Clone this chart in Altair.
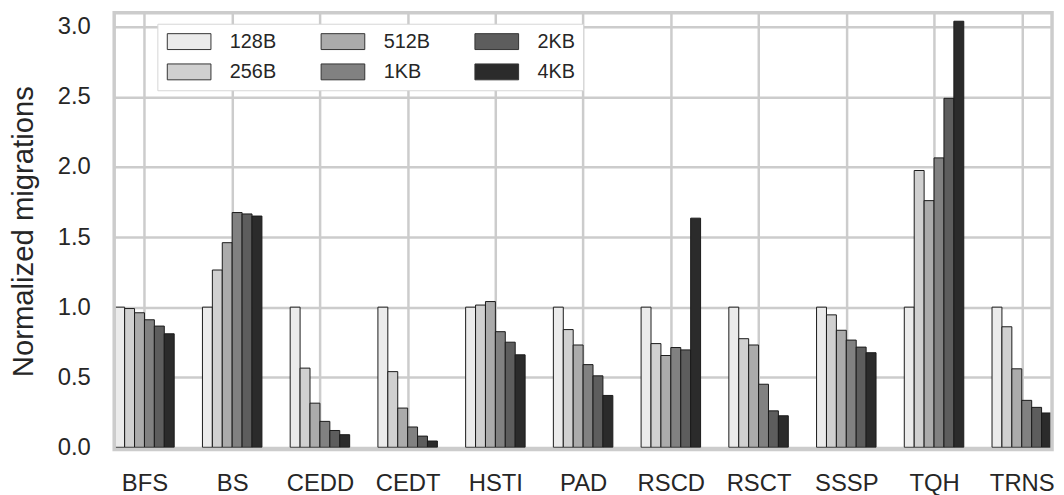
import altair as alt
import pandas as pd

benchmarks = ["BFS", "BS", "CEDD", "CEDT", "HSTI", "PAD", "RSCD", "RSCT", "SSSP", "TQH", "TRNS"]
sizes = ["128B", "256B", "512B", "1KB", "2KB", "4KB"]

v_128B = [1.0, 1.0, 1.0, 1.0, 1.0, 1.0, 1.0, 1.0, 1.0, 1.0, 1.0]
v_256B = [0.99, 1.265, 0.565, 0.54, 1.015, 0.84, 0.74, 0.775, 0.945, 1.975, 0.86]
v_512B = [0.96, 1.46, 0.315, 0.28, 1.04, 0.73, 0.655, 0.73, 0.835, 1.76, 0.56]
v_1KB = [0.91, 1.675, 0.185, 0.145, 0.825, 0.59, 0.712, 0.45, 0.765, 2.065, 0.335]
v_2KB = [0.865, 1.665, 0.12, 0.08, 0.75, 0.51, 0.695, 0.26, 0.715, 2.49, 0.285]
v_4KB = [0.81, 1.65, 0.09, 0.045, 0.66, 0.37, 1.635, 0.225, 0.675, 3.04, 0.245]
series = [v_128B, v_256B, v_512B, v_1KB, v_2KB, v_4KB]

colors = ["#ebebeb", "#d0d0d0", "#ababab", "#818181", "#5d5d5d", "#2b2b2b"]

rows = []
for k, (s, vals) in enumerate(zip(sizes, series)):
    for b, (name, v) in enumerate(zip(benchmarks, vals)):
        rows.append({"bench": name, "b": b, "size": s, "k": k, "value": v})
df = pd.DataFrame(rows)

W, H = 945, 440
FONT = "Liberation Sans"
TXT = "#262626"
GRID = "#cccccc"
label_expr = "[" + ",".join("'%s'" % n for n in benchmarks) + "][datum.value]"

bars = alt.Chart(df).transform_calculate(
    x0="datum.b + (datum.k - 3) * 0.113",
    x1="datum.b + (datum.k - 2) * 0.113",
).mark_bar(stroke="#1a1a1a", strokeWidth=1, clip=True).encode(
    x=alt.X(
        "x0:Q",
        scale=alt.Scale(domain=[-0.345, 10.345], nice=False, zero=False),
        axis=alt.Axis(values=list(range(11)), labelExpr=label_expr, title=None,
                      labelPadding=22.5, labelFontSize=24),
    ),
    x2="x1:Q",
    y=alt.Y(
        "value:Q",
        scale=alt.Scale(domain=[-0.0156, 3.1], nice=False, zero=False),
        axis=alt.Axis(values=[0, 0.5, 1, 1.5, 2, 2.5, 3], format=".1f",
                      title="Normalized migrations", titleFontSize=29.5,
                      titlePadding=19, labelPadding=24, labelFontSize=24),
    ),
    y2=alt.datum(0),
    fill=alt.Fill(
        "size:N",
        scale=alt.Scale(domain=sizes, range=colors),
        legend=alt.Legend(
            title=None, orient="none", legendX=43.5, legendY=11, columns=3,
            symbolType="M-1,-1 L4.5,-1 L4.5,1 L-1,1 Z", symbolSize=256,
            symbolStrokeColor="#333333", symbolStrokeWidth=1, symbolOpacity=1,
            labelOffset=45, columnPadding=43, rowPadding=10.5, padding=8,
            fillColor="white", strokeColor="#d6d6d6", labelFontSize=20,
            labelFont=FONT, labelColor=TXT, cornerRadius=0,
        ),
    ),
)

frame = alt.Chart(pd.DataFrame({"a": [0]})).mark_rect(
    fill="transparent", stroke=GRID, strokeWidth=3.5
).encode(x=alt.value(0), x2=alt.value(W), y=alt.value(0), y2=alt.value(H))

chart = alt.layer(bars, frame).properties(
    width=W, height=H,
    autosize=alt.AutoSizeParams(type="none"),
    padding={"left": 107, "top": 3, "right": 4, "bottom": 46},
).configure_view(stroke=None).configure_axis(
    grid=True, gridColor=GRID, gridWidth=2.5, domain=False, ticks=False, tickSize=0,
    labelFont=FONT, titleFont=FONT, labelColor=TXT, titleColor=TXT,
    titleFontWeight="normal",
)

chart.save("out.html", embed_options={"renderer": "svg", "actions": False})
